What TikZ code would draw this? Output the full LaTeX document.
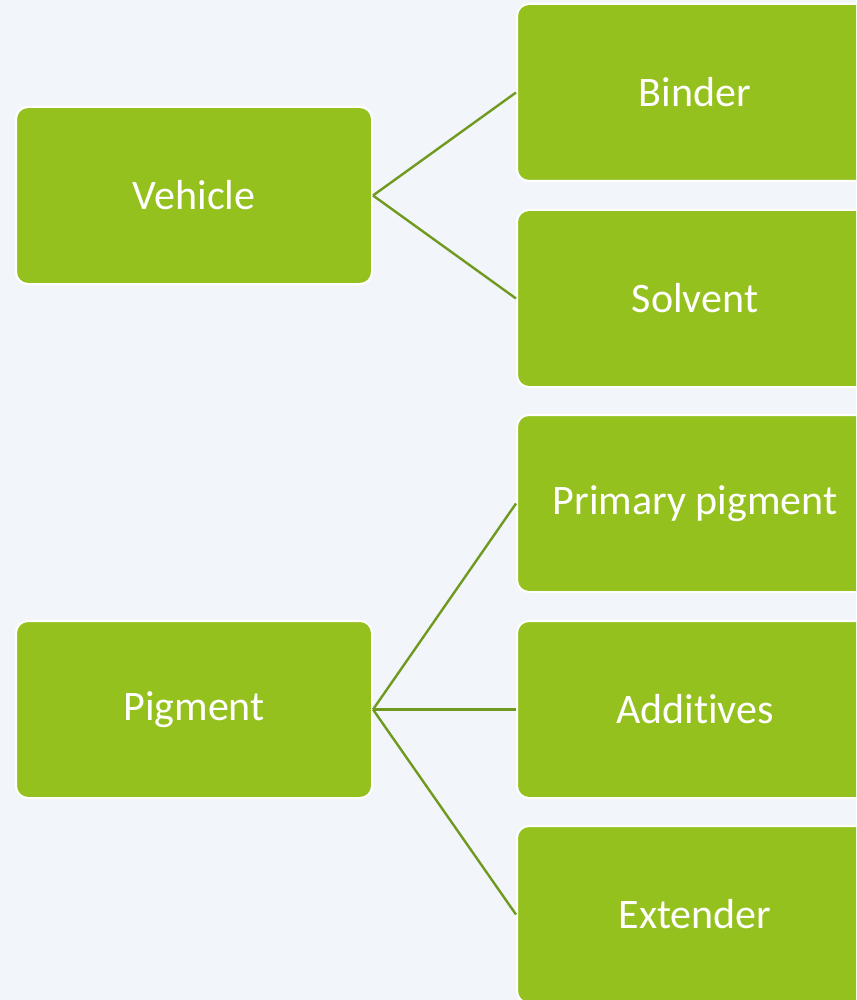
\documentclass[tikz,border=0pt]{standalone}
\usepackage{fontspec}
\setmainfont{Carlito}[Ligatures=NoCommon]
\definecolor{bgcol}{HTML}{F2F6FA}
\definecolor{boxgreen}{HTML}{95C11F}
\definecolor{linkgreen}{HTML}{6F9A1F}
\begin{document}
\begin{tikzpicture}[x=1pt, y=-1pt,
        box/.style={draw=white, line width=2pt, fill=boxgreen, rounded corners=12pt,
            minimum width=356pt, minimum height=177pt, inner sep=0pt,
            text=white, font=\fontsize{42}{50}\selectfont},
        link/.style={draw=linkgreen, line width=2.4pt}
    ]
    % Sfondo e ritaglio
    \useasboundingbox (0,0) rectangle (856,1000);
    \fill[bgcol] (0,0) rectangle (856,1000);
    \clip (0,0) rectangle (856,1000);

    % Categorie
    \node[box] (vehicle) at (194,195.5) {Vehicle};
    \node[box] (pigment) at (194,709.5) {Pigment};

    % Componenti
    \node[box] (binder) at (695,92.5) {Binder};
    \node[box] (solvent) at (695,298.5) {Solvent};
    \node[box] (primary) at (695,503.5) {Primary pigment};
    \node[box] (additives) at (695,709.5) {Additives};
    \node[box] (extender) at (695,914.5) {Extender};

    % Collegamenti
    \foreach \c in {binder, solvent}
        \draw[link] (vehicle.east) -- (\c.west);
    \foreach \c in {primary, additives, extender}
        \draw[link] (pigment.east) -- (\c.west);
\end{tikzpicture}
\end{document}
